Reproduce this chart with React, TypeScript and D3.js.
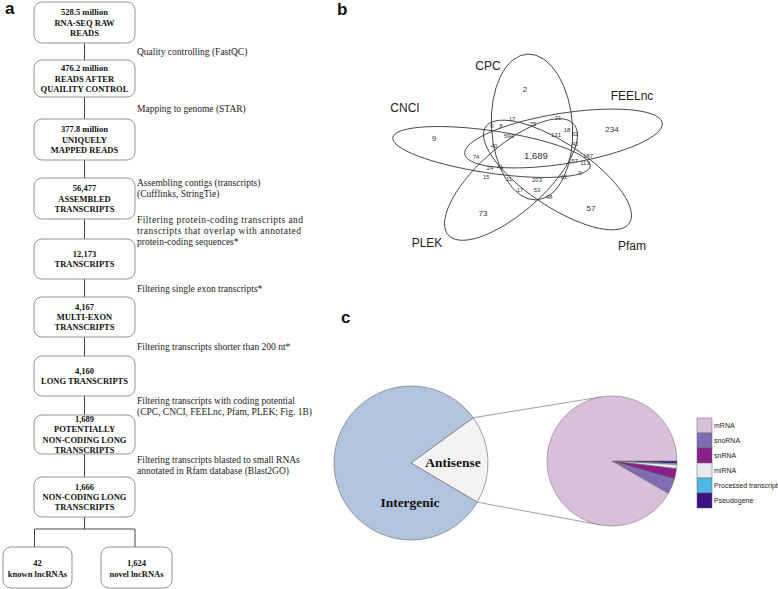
import React from "react";
import * as d3 from "d3";

const W = 778;
const H = 589;

// ---------- Panel a: pipeline ----------
const stepCounts = ["528.5 million", "476.2 million", "377.8 million", "56,477", "12,173", "4,167", "4,160", "1,689", "1,666"];
const stepTitles = [
  ["RNA-SEQ RAW", "READS"],
  ["READS AFTER", "QUAILITY CONTROL"],
  ["UNIQUELY", "MAPPED READS"],
  ["ASSEMBLED", "TRANSCRIPTS"],
  ["TRANSCRIPTS"],
  ["MULTI-EXON", "TRANSCRIPTS"],
  ["LONG TRANSCRIPTS"],
  ["POTENTIALLY", "NON-CODING LONG", "TRANSCRIPTS"],
  ["NON-CODING LONG", "TRANSCRIPTS"],
];
const stepActions = [
  ["Quality controlling (FastQC)"],
  ["Mapping to genome (STAR)"],
  ["Assembling contigs (transcripts)", "(Cufflinks, StringTie)"],
  ["Filtering protein-coding transcripts and", "transcripts that overlap with annotated", "protein-coding sequences*"],
  ["Filtering single exon transcripts*"],
  ["Filtering transcripts shorter than 200 nt*"],
  ["Filtering transcripts with coding potential", "(CPC, CNCI, FEELnc, Pfam, PLEK; Fig. 1B)"],
  ["Filtering transcripts blasted to small RNAs", "annotated in Rfam database (Blast2GO)"],
];
const leafCounts = ["42", "1,624"];
const leafTitles = ["known lncRNAs", "novel lncRNAs"];

// ---------- Panel b: Venn ----------
const vennSets = ["CPC", "FEELnc", "Pfam", "PLEK", "CNCI"];
const vennCounts = [2, 234, 57, 73, 9, 17, 21, 0, 8, 75, 18, 52, 594, 131, 42, 40, 1689, 157, 187, 113, 24, 41, 15, 11, 203, 62, 9, 17, 53, 48, 74];

// ---------- Panel c: pies ----------
const locusNames = ["Antisense", "Intergenic"];
const locusShares = [18.5, 81.5];
const biotypeNames = ["mRNA", "snoRNA", "snRNA", "miRNA", "Processed transcript", "Pseudogene"];
const biotypeShares = [91.7, 3.8, 2.6, 1.0, 0.3, 0.6];
const biotypeColors = ["#d9bfd9", "#7e6db5", "#8a1f8a", "#e9e8f3", "#4cb9e9", "#3c1280"];

// ---------- layout ----------
const boxX0 = 34;
const boxX1 = 135;
const boxTops = [2, 60, 119, 178, 239, 297, 356, 415, 477];
const boxBottoms = [43, 97, 160, 219, 279, 337, 396, 454, 517];
const actionY = [52, 109, 183, 220, 289, 347, 401, 460];
const justified: Record<string, number> = { "3-0": 166, "3-1": 164 };
const leafX = [[3, 72], [101, 172]];
const leafDrop = [34.5, 135];

// ellipse geometry: pixel centre, rotation (deg), minor / major semi-axes in un-stretched space
const vennSx = 1.36;
const vennEllipses = [
  { cx: 532, cy: 127, rot: -2.3, a: 29.8, b: 73 },
  { cx: 563.5, cy: 138.5, rot: 77.2, a: 25, b: 74.3 },
  { cx: 557.5, cy: 175, rot: 135.3, a: 28, b: 72 },
  { cx: 511, cy: 179.5, rot: 216.6, a: 28, b: 72.8 },
  { cx: 491.5, cy: 152, rot: 281.7, a: 21, b: 74 },
];
const vennSetPos = [[488, 65], [632, 95], [632, 245], [427, 242], [405, 107]];
const vennCountPos: [number, number, number][] = [
  [525, 89, 8], [612, 129, 8], [591, 208, 8], [483, 213, 8], [434, 138, 8],
  [512, 119, 6], [558, 118, 6], [492, 126, 6], [501, 126, 6], [533, 124, 6], [567, 130, 6], [575, 134, 6],
  [509, 136, 6], [556, 135, 6], [575, 144, 6], [494, 146, 6], [536, 156, 9.5], [573, 161, 6], [588, 156, 6],
  [585, 163, 6], [490, 168, 6], [500, 167, 6], [486, 177, 6], [509, 179, 6], [537, 180, 6], [564, 177, 6],
  [580, 173, 6], [520, 190, 6], [537, 190, 6], [549, 197, 6], [476, 157, 6],
];

const pie1 = { cx: 411, cy: 463, r: 77 };
const pie2 = { cx: 612, cy: 461, r: 65 };

const serif = "'Liberation Serif', 'Times New Roman', serif";
const sans = "'Liberation Sans', Arial, sans-serif";

const fmt = d3.format(",");

type Circ = { cx: number; cy: number; r: number };
// tangent point on circle c from external point p; side = -1 upper, +1 lower
function tangentPoint(p: number[], c: Circ, side: number) {
  const dx = c.cx - p[0];
  const dy = c.cy - p[1];
  const d = Math.hypot(dx, dy);
  const base = Math.atan2(dy, dx);
  const off = Math.asin(c.r / d);
  const ang = base + side * off;
  const len = Math.sqrt(d * d - c.r * c.r);
  return [p[0] + len * Math.cos(ang), p[1] + len * Math.sin(ang)];
}

export default function App() {
  const deg = Math.PI / 180;

  const pie1Start = 54 * deg;
  const arcs1 = d3
    .pie<number>()
    .sort(null)
    .startAngle(pie1Start)
    .endAngle(pie1Start + 2 * Math.PI)(locusShares);
  const arc1 = d3.arc<d3.PieArcDatum<number>>().innerRadius(0).outerRadius(pie1.r);
  const locusColors = ["#f3f3f3", "#b0c4de"];

  const order = [5, 4, 3, 2, 1, 0];
  const arcs2 = d3
    .pie<number>()
    .sort(null)
    .startAngle(90 * deg)
    .endAngle(90 * deg + 2 * Math.PI)(order.map((i) => biotypeShares[i]));
  const arc2 = d3.arc<d3.PieArcDatum<number>>().innerRadius(0).outerRadius(pie2.r);

  const onCircle = (c: Circ, a: number) => [c.cx + c.r * Math.sin(a), c.cy - c.r * Math.cos(a)];
  const p1a = onCircle(pie1, arcs1[0].startAngle);
  const p1b = onCircle(pie1, arcs1[0].endAngle);
  const p2a = tangentPoint(p1a, pie2, -1);
  const p2b = tangentPoint(p1b, pie2, 1);

  const midX = (boxX0 + boxX1) / 2;

  return (
    <svg
      width={W}
      height={H}
      viewBox={`0 0 ${W} ${H}`}
      style={{ position: "absolute", left: 0, top: 0, background: "#fff" }}
    >
      <rect x={0} y={0} width={W} height={H} fill="#fff" />
      <g fontFamily={sans} fontWeight="bold" fontSize={17} fill="#111">
        <text x={5} y={14}>a</text>
        <text x={337} y={15}>b</text>
        <text x={341} y={323}>c</text>
      </g>

      {/* ---------- panel a ---------- */}
      <g>
        {boxTops.slice(1).map((t, i) => (
          <line key={"c" + i} x1={midX} x2={midX} y1={boxBottoms[i]} y2={t} stroke="#444" strokeWidth={1} />
        ))}
        <line x1={midX} x2={midX} y1={boxBottoms[8]} y2={529} stroke="#444" />
        <line x1={leafDrop[0]} x2={leafDrop[1]} y1={529} y2={529} stroke="#444" />
        {leafDrop.map((x, i) => (
          <line key={"d" + i} x1={x} x2={x} y1={529} y2={547} stroke="#444" />
        ))}
        {stepCounts.map((c, i) => {
          const lines = [c, ...stepTitles[i]];
          const cy = (boxTops[i] + boxBottoms[i]) / 2;
          const y0 = cy - ((lines.length - 1) * 10.2) / 2 + 3;
          return (
            <g key={"b" + i}>
              <rect
                x={boxX0}
                y={boxTops[i]}
                width={boxX1 - boxX0}
                height={boxBottoms[i] - boxTops[i]}
                rx={8}
                fill="#fff"
                stroke="#888"
                strokeWidth={0.9}
              />
              <text fontFamily={serif} fontWeight="bold" fontSize={8.5} fill="#111" textAnchor="middle">
                {lines.map((l, j) => (
                  <tspan key={j} x={midX} y={y0 + j * 10.2}>
                    {l}
                  </tspan>
                ))}
              </text>
            </g>
          );
        })}
        {leafCounts.map((c, i) => {
          const [x0, x1] = leafX[i];
          return (
            <g key={"l" + i}>
              <rect x={x0} y={547} width={x1 - x0} height={41} rx={8} fill="#fff" stroke="#888" strokeWidth={0.9} />
              <text fontFamily={serif} fontWeight="bold" fontSize={8.5} fill="#111" textAnchor="middle">
                <tspan x={(x0 + x1) / 2} y={566}>{c}</tspan>
                <tspan x={(x0 + x1) / 2} y={576.5}>{leafTitles[i]}</tspan>
              </text>
            </g>
          );
        })}
        {stepActions.map((lines, i) =>
          lines.map((l, j) => {
            const jw = justified[`${i}-${j}`];
            return (
              <text
                key={"a" + i + "-" + j}
                x={137}
                y={actionY[i] + 3 + j * 11}
                fontFamily={serif}
                fontSize={9.5}
                fill="#222"
                {...(jw ? { textLength: jw, lengthAdjust: "spacing" } : {})}
              >
                {l}
              </text>
            );
          })
        )}
      </g>

      {/* ---------- panel b ---------- */}
      {vennEllipses.map((e, i) => (
        <g key={vennSets[i]} transform={`translate(${e.cx},${e.cy}) scale(${vennSx},1) rotate(${e.rot})`}>
          <ellipse
            rx={e.a}
            ry={e.b}
            fill="none"
            stroke="#333"
            strokeWidth={0.9}
            vectorEffect="non-scaling-stroke"
          />
        </g>
      ))}
      <g fontFamily={sans} fill="#222" textAnchor="middle">
        {vennSets.map((s, i) => (
          <text key={s} x={vennSetPos[i][0]} y={vennSetPos[i][1] + 4.5} fontSize={12}>
            {s}
          </text>
        ))}
        {vennCounts.map((v, i) => {
          const [x, y, fs] = vennCountPos[i];
          return (
            <text key={"v" + i} x={x} y={y + fs * 0.36} fontSize={fs} fill="#333">
              {fmt(v)}
            </text>
          );
        })}
      </g>

      {/* ---------- panel c ---------- */}
      <g transform={`translate(${pie1.cx},${pie1.cy})`}>
        {arcs1.map((a, i) => (
          <path key={i} d={arc1(a) || ""} fill={locusColors[i]} stroke="#777" strokeWidth={0.7} />
        ))}
      </g>
      <line x1={p1a[0]} y1={p1a[1]} x2={p2a[0]} y2={p2a[1]} stroke="#777" strokeWidth={0.7} />
      <line x1={p1b[0]} y1={p1b[1]} x2={p2b[0]} y2={p2b[1]} stroke="#777" strokeWidth={0.7} />
      <g fontFamily={serif} fontWeight="bold" fontSize={13.5} fill="#111" textAnchor="middle">
        <text x={453} y={466.5}>{locusNames[0]}</text>
        <text x={410} y={506.5}>{locusNames[1]}</text>
      </g>
      <g transform={`translate(${pie2.cx},${pie2.cy})`}>
        {arcs2.map((a, k) => (
          <path key={k} d={arc2(a) || ""} fill={biotypeColors[order[k]]} stroke="#666" strokeWidth={0.5} />
        ))}
      </g>
      <g fontFamily={sans} fontSize={7} fill="#222">
        {biotypeNames.map((n, i) => (
          <g key={n}>
            <rect x={697} y={418 + i * 15} width={15} height={15} fill={biotypeColors[i]} stroke="#666" strokeWidth={0.5} />
            <text x={714} y={428 + i * 15}>{n}</text>
          </g>
        ))}
      </g>
    </svg>
  );
}
